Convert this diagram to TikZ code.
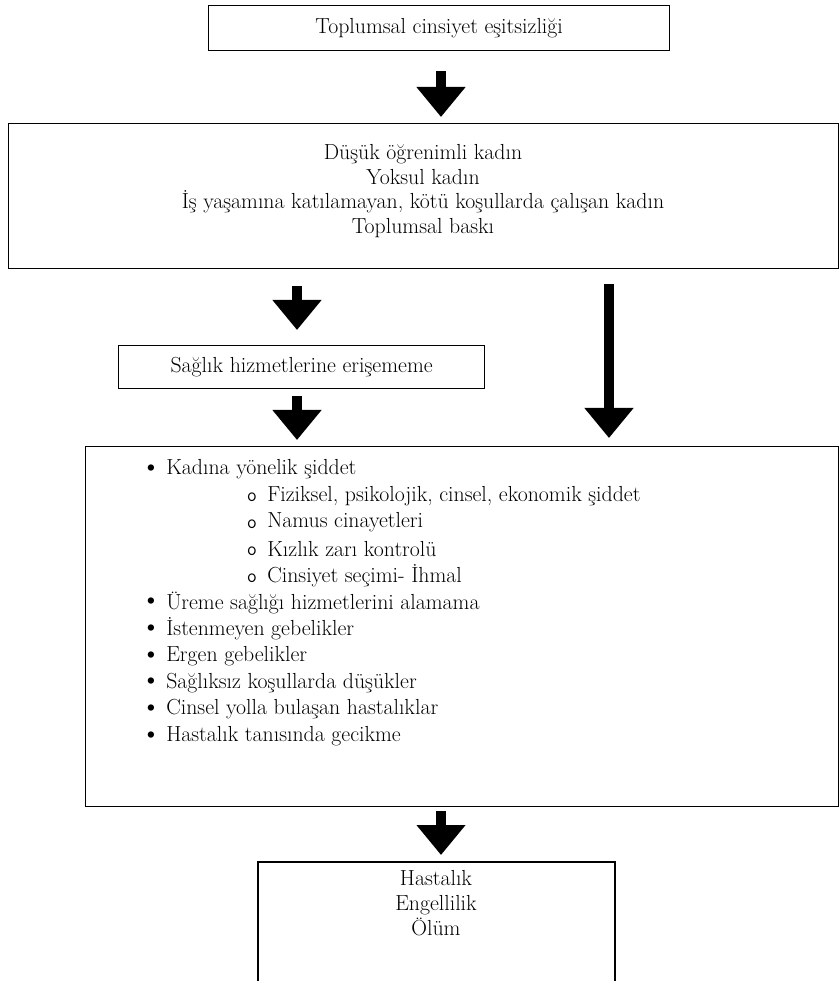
\documentclass[tikz,border=0pt]{standalone}
\usetikzlibrary{arrows.meta}
\newcommand{\px}{0.025cm}
\begin{document}
\begin{tikzpicture}[x=0.025cm, y=-0.025cm,
	box/.style={draw, line width=0.9pt, inner sep=0pt, anchor=north west},
	txt/.style={font=\fontsize{15.5}{17.6}\selectfont, align=center},
	item/.style={font=\fontsize{15.5}{17.6}\selectfont, anchor=west, inner sep=0pt},
	dot/.style={font=\fontsize{20}{20}\selectfont, anchor=center, inner sep=0pt},
	circ/.style={font=\ttfamily\fontsize{14}{14}\selectfont, anchor=center, inner sep=0pt},
	fatarrow/.style={line width=0.25cm, -{Triangle[length=0.75cm, width=1.18cm]}}]

		\useasboundingbox (0,0) rectangle (840,981);

		% boxes
		\node[box, minimum width=461*\px, minimum height=45*\px] (top) at (208,5) {};
		\node[txt] (toptxt) at (top.center) {Toplumsal cinsiyet eşitsizliği};
		\node[box, minimum width=830*\px, minimum height=145*\px] (mid) at (8,123) {};
		\node[txt] (midtxt) at (423,191) {Düşük öğrenimli kadın\\Yoksul kadın\\İş yaşamına katılamayan, kötü koşullarda çalışan kadın\\Toplumsal baskı};
		\node[box, minimum width=366*\px, minimum height=43*\px] (svc) at (118,345) {};
		\node[txt] (svctxt) at (svc.center) {Sağlık hizmetlerine erişememe};
		\node[box, minimum width=753*\px, minimum height=360*\px] (list) at (85,446) {};
		\coordinate (end) at (436,862);
		\draw[line width=0.9pt] (258,981) -- (258,862) -- (615,862) -- (615,981);
		\node[txt] (endtxt) at (436,903) {Hastalık\\Engellilik\\Ölüm};

		% list
		\node[dot] (b0) at (151,470) {\textbullet};
		\node[item] (l0) at (166,469) {Kadına yönelik şiddet};
		\foreach \lbl [count=\i] in {{Fiziksel, psikolojik, cinsel, ekonomik şiddet}, Namus cinayetleri, Kızlık zarı kontrolü, Cinsiyet seçimi- İhmal}{
			\node[circ] (o\i) at ({252},{471+26.7*\i}) {o};
			\node[item] (s\i) at ({267},{469+26.7*\i}) {\lbl};
		}
		\foreach \lbl [count=\i] in {Üreme sağlığı hizmetlerini alamama, İstenmeyen gebelikler, Ergen gebelikler, Sağlıksız koşullarda düşükler, Cinsel yolla bulaşan hastalıklar, Hastalık tanısında gecikme}{
			\node[dot] (b\i) at ({151},{470+26.7*(\i+4)}) {\textbullet};
			\node[item] (l\i) at ({166},{469+26.7*(\i+4)}) {\lbl};
		}

		% arrows
		\draw[fatarrow, shorten <=20*\px, shorten >=6*\px] (top.south -| 441,0) -- (mid.north -| 441,0);
		\draw[fatarrow, shorten <=17*\px, shorten >=15*\px] (mid.south -| 297,0) -- (svc.north -| 297,0);
		\draw[fatarrow, shorten <=15*\px, shorten >=8*\px] (mid.south -| 609,0) -- (list.north -| 609,0);
		\draw[fatarrow, shorten <=7*\px, shorten >=6*\px] (svc.south -| 297,0) -- (list.north -| 297,0);
		\draw[fatarrow, shorten <=4*\px, shorten >=7*\px] (list.south -| 441,0) -- (end -| 441,0);
	\end{tikzpicture}
\end{document}
